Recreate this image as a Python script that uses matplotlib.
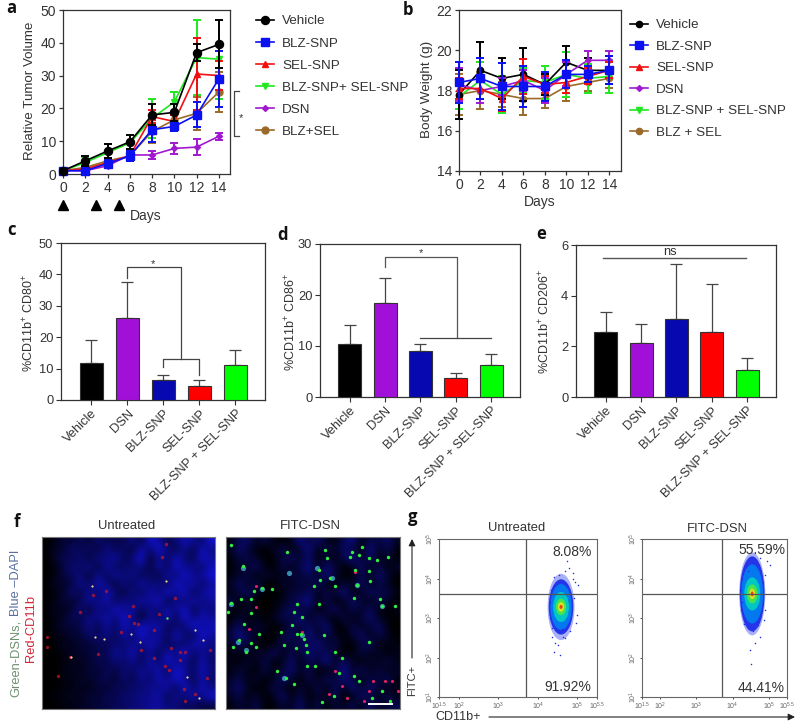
import numpy as np
import matplotlib
matplotlib.use("Agg")
import matplotlib.pyplot as plt
from matplotlib.patches import Ellipse

plt.rcParams["font.family"] = ["Liberation Sans", "DejaVu Sans"]
plt.rcParams["mathtext.default"] = "regular"
plt.rcParams["axes.edgecolor"] = "#333333"
plt.rcParams["text.color"] = "#333333"
plt.rcParams["xtick.color"] = "#333333"
plt.rcParams["ytick.color"] = "#333333"

W, H = 800, 725
DARK = "#333333"

# panel a: relative tumor volume
days = [0, 2, 4, 6, 8, 10, 12, 14]
tv_vehicle = [1, 4, 7, 9.8, 18, 18.8, 37, 39.5]
tv_vehicle_sd = [0.3, 1.5, 2, 2.2, 3.2, 2.5, 2.7, 7.3]
tv_blz = [1, 1, 3.2, 5.5, 13.5, 14.5, 18, 29]
tv_blz_sd = [0.2, 0.5, 1, 1.5, 3.8, 1.5, 3.8, 8.5]
tv_sel = [1, 1.5, 3.5, 5.5, 17.5, 16, 30.5, 30]
tv_sel_sd = [0.2, 0.4, 1, 1.5, 2, 2, 11, 4.5]
tv_combo = [1, 3.5, 6.5, 9.5, 17, 22, 35.5, 35]
tv_combo_sd = [0.2, 1.8, 2.5, 2.5, 6, 3, 11.5, 12]
tv_dsn = [1, 1, 2.5, 5.8, 5.8, 7.8, 8.2, 11.5]
tv_dsn_sd = [0.2, 0.3, 0.8, 1.2, 1.1, 1.6, 2.4, 1.1]
tv_free = [1, 2, 4, 5.5, 13, 16.5, 18.5, 25]
tv_free_sd = [0.2, 0.6, 1, 1.5, 3.5, 2, 5, 6]
dose_days = [0, 3, 5]

# panel b: body weight
bw_vehicle = [17.8, 19, 18.6, 18.8, 18.3, 19.4, 19, 19]
bw_vehicle_sd = [1.2, 1.4, 1, 1.3, 0.5, 0.8, 0.6, 0.7]
bw_blz = [18.4, 18.6, 18.2, 18.2, 18.2, 18.8, 18.8, 19]
bw_blz_sd = [1, 1, 1.15, 1, 0.7, 0.7, 0.4, 0.7]
bw_sel = [18.1, 18.1, 17.6, 18.7, 18.3, 18.4, 18.7, 19]
bw_sel_sd = [0.5, 0.5, 0.6, 0.85, 0.4, 0.5, 0.4, 0.4]
bw_dsn = [18.3, 18, 18.2, 18.5, 18, 18.8, 19.5, 19.5]
bw_dsn_sd = [0.8, 0.6, 0.4, 0.5, 0.6, 0.6, 0.45, 0.45]
bw_combo = [17.7, 18.5, 17.8, 18.5, 18.4, 18.8, 18.6, 18.7]
bw_combo_sd = [0.6, 0.9, 0.9, 0.6, 0.8, 1.1, 0.7, 0.8]
bw_free = [17.8, 18, 17.8, 17.6, 17.6, 18.2, 18.4, 18.6]
bw_free_sd = [1, 0.9, 0.6, 0.8, 0.45, 0.7, 0.4, 0.5]

# panels c, d, e: bars
bar_labels = ["Vehicle", "DSN", "BLZ-SNP", "SEL-SNP", "BLZ-SNP + SEL-SNP"]
bar_colors = ["#000000", "#a010d8", "#0808b0", "#ff0000", "#00ff00"]
cd80 = [11.7, 26, 6.5, 4.6, 11.1]
cd80_top = [19, 37.5, 8, 6.5, 16]
cd86 = [10.4, 18.4, 9.1, 3.7, 6.3]
cd86_top = [14.2, 23.4, 10.3, 4.8, 8.4]
cd206 = [2.55, 2.15, 3.07, 2.55, 1.08]
cd206_top = [3.35, 2.88, 5.25, 4.45, 1.55]

# panel f: DAPI brightness by eye, one digit per block
dapi_untreated = [
    "01324253436286357648", "02253526352748536375", "02435264735826475386",
    "01354627354627385647", "01345263746352748568", "02236475263746385746",
    "01253647526374858367", "01324657364758264756", "02135264857364758365",
    "01243657485264738576", "01324536475867354867", "01132546374856475386",
    "00213243546576354765", "00122334657463758465", "00112243546374856374",
    "00121324354657386475", "00112234253647586374", "00112132435465738475",
    "01121324354657364758", "00112233445566554433",
]
dapi_fitc = [
    "14524102635214614352", "25310240361425306241", "13420135250314625130",
    "03251041462530251403", "12403214251630142530", "25140031425103251420",
    "13520104251436025341", "41200023561402531420", "20310135240351425102",
    "03120243615204135210", "25132014352601423510", "36421035162420351420",
    "24310142536241035021", "12032514263520141302", "20314025143625203141",
    "13204135241036251403", "24130253041526314250", "35201420314051625312",
    "24130251403240153241", "13240132514032415234",
]
un_red_x = [275, 265, 280, 290, 240, 420, 435, 385, 420, 390, 435, 430, 465, 300, 170, 340, 355, 405, 365, 375,
            195, 155, 115, 85, 15, 50, 15, 340, 510, 500, 372]
un_red_y = [210, 240, 262, 265, 290, 350, 350, 405, 375, 340, 500, 465, 480, 345, 358, 285, 235, 185, 60, 22,
            165, 178, 230, 365, 335, 425, 305, 370, 345, 430, 395]
un_yellow_x = [152, 162, 187, 270, 298, 465, 490, 440, 88, 476, 375]
un_yellow_y = [150, 305, 312, 296, 320, 285, 315, 428, 365, 490, 135]
un_green_x = [380]
un_green_y = [247]
fi_green_x = [380, 400, 430, 455, 410, 375, 490, 430, 435, 390, 395, 385, 470, 465, 300, 305, 185, 50, 15, 280,
              315, 330, 285, 265, 110, 85, 75, 15, 5, 75, 45, 140, 215, 205, 228, 200, 165, 175, 215, 235,
              240, 225, 245, 210, 20, 60, 75, 40, 90, 55, 100, 330, 350, 340, 245, 270, 155, 180, 205, 385,
              400, 290, 325, 470, 440, 495, 430, 510, 280, 295]
fi_green_y = [45, 55, 65, 70, 30, 60, 60, 105, 135, 100, 145, 185, 210, 190, 40, 65, 45, 90, 25, 100,
              125, 150, 130, 150, 155, 165, 190, 200, 228, 232, 190, 160, 205, 230, 245, 270, 290, 330, 295, 310,
              330, 295, 350, 340, 335, 350, 325, 315, 335, 265, 295, 350, 370, 415, 395, 395, 410, 430, 450, 425,
              440, 505, 485, 470, 490, 500, 320, 210, 205, 300]
fi_red_x = [430, 480, 415, 500, 350, 310, 365, 90, 90, 280, 390, 230, 70, 445, 330, 520]
fi_red_y = [470, 440, 500, 440, 455, 480, 490, 150, 215, 100, 108, 290, 280, 440, 410, 470]
fi_cyan_x = [320, 60, 230, 175, 395, 15, 110, 35, 275, 190, 470, 50]
fi_cyan_y = [125, 345, 300, 430, 145, 205, 160, 320, 95, 110, 210, 95]
scale_bar_x = [430, 500]
scale_bar_y = [510, 510]

# panel g: flow plots, all positions in log10 units
gate_left = (3.70, 3.61)
gate_right = (3.71, 3.61)
cloud_left = (4.59, 3.28)
cloud_right = (4.54, 3.61)
level_colors = ["#4050f0", "#1828e8", "#0080f0", "#00d0c0", "#50e840", "#f0e020", "#f03010"]
left_wx = [0.34, 0.31, 0.27, 0.20, 0.13, 0.08, 0.04]
left_wy = [0.84, 0.70, 0.58, 0.38, 0.21, 0.12, 0.05]
right_wx = [0.36, 0.34, 0.30, 0.22, 0.15, 0.08, 0.04]
right_wy = [1.05, 0.95, 0.75, 0.42, 0.24, 0.13, 0.06]
left_dots_x = [4.44, 4.40, 4.57, 4.78, 4.74, 4.90, 4.52, 4.69, 4.35, 4.99, 5.03, 4.97, 4.48, 4.65, 4.82,
               4.30, 4.32, 4.33, 4.92, 4.95, 4.88, 4.40, 4.55, 4.68, 4.36, 4.62, 4.80]
left_dots_y = [2.36, 2.15, 2.07, 4.27, 4.44, 4.14, 2.32, 2.49, 2.53, 3.08, 3.84, 2.87, 2.70, 2.53, 2.66,
               3.40, 3.00, 3.70, 3.50, 3.90, 3.98, 4.05, 4.10, 4.18, 2.75, 2.72, 2.85]
right_dots_x = [4.48, 4.50, 4.62, 4.76, 4.57, 4.94, 4.76, 5.03, 4.43, 4.57, 4.22, 4.24, 4.26, 4.88, 4.86,
                4.30, 4.42, 4.70, 4.85, 4.90, 4.26]
right_dots_y = [2.19, 1.83, 2.36, 2.53, 2.66, 4.44, 4.52, 4.35, 4.18, 4.39, 3.70, 3.20, 4.00, 3.20, 2.95,
                2.85, 2.75, 2.82, 3.90, 4.10, 3.40]
flow_xticks = [1.5, 2, 3, 4, 5, 5.5]
flow_yticks = [1, 2, 3, 4, 5]


def px_axes(fig, x0, y0, x1, y1):
    # rectangle given in image pixels, y going down
    return fig.add_axes([x0 / W, 1 - y1 / H, (x1 - x0) / W, (y1 - y0) / H])


def line_panel(ax, series, xlim, ylim, yticks):
    handles = {}
    for name, y, sd, color, marker, ms, z in series:
        ax.errorbar(days, y, yerr=sd, color=color, lw=0, elinewidth=1.4, capsize=2.6, capthick=1.4,
                    zorder=z, clip_on=False)
        h, = ax.plot(days, y, color=color, marker=marker, ms=ms, lw=1.2, zorder=z, clip_on=False)
        handles[name] = h
    ax.set_xlim(*xlim)
    ax.set_ylim(*ylim)
    ax.set_xticks(days)
    ax.set_yticks(yticks)
    ax.tick_params(labelsize=10, length=3, width=0.9, pad=2)
    for s in ax.spines.values():
        s.set_linewidth(0.9)
    return handles


def bar_panel(ax, vals, tops, ymax, yticks):
    x = np.arange(len(vals))
    err = [np.zeros(len(vals)), np.array(tops) - np.array(vals)]
    ax.bar(x, vals, width=0.65, color=bar_colors, edgecolor=DARK, linewidth=0.8, zorder=3)
    ax.errorbar(x, vals, yerr=err, fmt="none", ecolor="#444444", elinewidth=0.9, capsize=4.3, capthick=0.9, zorder=2)
    ax.set_xlim(-0.84, 4.82)
    ax.set_ylim(0, ymax)
    ax.set_yticks(yticks)
    ax.set_xticks(x)
    ax.set_xticklabels(bar_labels, rotation=45, ha="right", rotation_mode="anchor")
    ax.tick_params(labelsize=9.3, length=3.5, width=0.8, pad=2)
    for s in ax.spines.values():
        s.set_linewidth(0.9)


def micro_panel(ax, rows, gamma):
    blue = np.array([[int(c) / 9 for c in r] for r in rows]) ** gamma
    img = np.zeros(blue.shape + (3,))
    img[..., 0] = blue * 0.08
    img[..., 1] = blue * 0.08
    img[..., 2] = blue
    ax.imshow(img, extent=(0, 525, 525, 0), interpolation="bicubic", aspect="auto")
    ax.set_xticks([])
    ax.set_yticks([])
    for s in ax.spines.values():
        s.set_linewidth(0.8)
        s.set_color("#777777")


def flow_panel(ax, center, wx, wy, dots_x, dots_y, gate):
    ax.set_xlim(1.5, 5.5)
    ax.set_ylim(1, 5)
    for c, a, b in zip(level_colors, wx, wy):
        ax.add_patch(Ellipse(center, 2 * a, 2 * b, facecolor=c, edgecolor="none",
                             alpha=0.45 if c == level_colors[0] else 0.9))
    ax.scatter(dots_x, dots_y, s=1.2, color="#2030e0", linewidths=0)
    ax.axvline(gate[0], color="#555555", lw=0.9)
    ax.axhline(gate[1], color="#555555", lw=0.9)
    ax.set_xticks(flow_xticks)
    ax.set_yticks(flow_yticks)
    ax.set_xticklabels([f"$10^{{{t}}}$" for t in flow_xticks])
    ax.set_yticklabels([f"$10^{{{t}}}$" for t in flow_yticks], rotation=90, va="center")
    ax.tick_params(labelsize=5, length=1.5, width=0.6, pad=1, labelcolor="#666666")
    for s in ax.spines.values():
        s.set_linewidth(0.8)
        s.set_color("#666666")


fig = plt.figure(figsize=(W / 100, H / 100), dpi=100)

# a
ax_a = px_axes(fig, 63, 10, 230, 174)
a_series = [
    ("BLZ-SNP+ SEL-SNP", tv_combo, tv_combo_sd, "#1fe81f", "v", 4.5, 3),
    ("BLZ+SEL", tv_free, tv_free_sd, "#9a6a28", "o", 5, 4),
    ("SEL-SNP", tv_sel, tv_sel_sd, "#f01010", "^", 4.5, 5),
    ("DSN", tv_dsn, tv_dsn_sd, "#a018d0", "D", 3, 6),
    ("BLZ-SNP", tv_blz, tv_blz_sd, "#0a10f0", "s", 5.5, 7),
    ("Vehicle", tv_vehicle, tv_vehicle_sd, "#000000", "o", 5.8, 8),
]
hs = line_panel(ax_a, a_series, (0, 15), (0, 50), range(0, 51, 10))
a_order = ["Vehicle", "BLZ-SNP", "SEL-SNP", "BLZ-SNP+ SEL-SNP", "DSN", "BLZ+SEL"]
ax_a.plot(dose_days, [-9.5] * 3, ls="none", marker="^", ms=6.5, color="black", clip_on=False)
ax_a.plot([15.85, 15.35, 15.35, 15.85], [25.3, 25.3, 11.7, 11.7], color="#444444", lw=0.9, clip_on=False)
ax_a.text(15.95, 17.2, "*", fontsize=8, ha="center", va="center")

# b
ax_b = px_axes(fig, 459, 10, 621, 171)
b_series = [
    ("BLZ + SEL", bw_free, bw_free_sd, "#9a6a28", "o", 4.5, 3),
    ("BLZ-SNP + SEL-SNP", bw_combo, bw_combo_sd, "#1fe81f", "v", 4.5, 4),
    ("Vehicle", bw_vehicle, bw_vehicle_sd, "#000000", "o", 4.5, 5),
    ("DSN", bw_dsn, bw_dsn_sd, "#a018d0", "D", 3, 6),
    ("SEL-SNP", bw_sel, bw_sel_sd, "#f01010", "^", 4.5, 7),
    ("BLZ-SNP", bw_blz, bw_blz_sd, "#0a10f0", "s", 5.5, 8),
]
hs_b = line_panel(ax_b, b_series, (0, 15.1), (14, 22), range(14, 23, 2))
b_order = ["Vehicle", "BLZ-SNP", "SEL-SNP", "DSN", "BLZ-SNP + SEL-SNP", "BLZ + SEL"]

# c
ax_c = px_axes(fig, 61, 243, 265, 400)
bar_panel(ax_c, cd80, cd80_top, 50, range(0, 51, 10))
ax_c.plot([1, 1, 2.5, 2.5], [39, 42.3, 42.3, 13], color="#444444", lw=0.9, zorder=4)
ax_c.plot([2, 2, 3, 3], [10.6, 13, 13, 8], color="#444444", lw=0.9, zorder=4)
ax_c.text(1.72, 43.2, "*", fontsize=8, ha="center", va="center")

# d
ax_d = px_axes(fig, 320, 244, 520, 397)
bar_panel(ax_d, cd86, cd86_top, 30, range(0, 31, 10))
ax_d.plot([1, 1, 3.05, 3.05], [25.4, 27.45, 27.45, 11.6], color="#555555", lw=0.9, zorder=4)
ax_d.plot([2, 4], [11.6, 11.6], color="#444444", lw=0.9, zorder=4)
ax_d.text(2.03, 28.3, "*", fontsize=8, ha="center", va="center")

# e
ax_e = px_axes(fig, 576, 245, 776, 397)
bar_panel(ax_e, cd206, cd206_top, 6, range(0, 7, 2))
ax_e.plot([-0.08, 3.96], [5.5, 5.5], color="#555555", lw=1.0, zorder=4)
ax_e.text(1.82, 5.73, "ns", fontsize=9.3, ha="center", va="center")

# f
ax_f1 = px_axes(fig, 42, 537, 215, 709)
micro_panel(ax_f1, dapi_untreated, 1.25)
ax_f1.scatter(un_red_x, un_red_y, s=6, color="#c01828", linewidths=0, alpha=0.75)
ax_f1.scatter(un_yellow_x, un_yellow_y, s=2.5, color="#f8d890", linewidths=0)
ax_f1.scatter(un_green_x, un_green_y, s=3, color="#50f050", linewidths=0)
ax_f1.set_xlim(0, 525)
ax_f1.set_ylim(525, 0)

ax_f2 = px_axes(fig, 226, 537, 400, 709)
micro_panel(ax_f2, dapi_fitc, 1.4)
ax_f2.scatter(fi_cyan_x, fi_cyan_y, s=14, color="#50c8e0", linewidths=0, alpha=0.7)
ax_f2.scatter(fi_red_x, fi_red_y, s=5, color="#e02060", linewidths=0)
ax_f2.scatter(fi_green_x, fi_green_y, s=6, color="#30f040", linewidths=0)
ax_f2.plot(scale_bar_x, scale_bar_y, color="white", lw=1.4)
ax_f2.set_xlim(0, 525)
ax_f2.set_ylim(525, 0)

# g
ax_g1 = px_axes(fig, 439, 539, 597, 697)
flow_panel(ax_g1, cloud_left, left_wx, left_wy, left_dots_x, left_dots_y, gate_left)
ax_g2 = px_axes(fig, 642, 539, 787, 697)
flow_panel(ax_g2, cloud_right, right_wx, right_wy, right_dots_x, right_dots_y, gate_right)

# overlay in image pixels for the free text, legends and arrows
ov = fig.add_axes([0, 0, 1, 1], zorder=20)
ov.set_xlim(0, W)
ov.set_ylim(H, 0)
ov.axis("off")
ov.patch.set_alpha(0)

leg_kw = dict(loc="upper left", bbox_transform=ov.transData, frameon=False, fontsize=9.7, handletextpad=0.65,
              borderpad=0, borderaxespad=0, labelcolor=DARK)
leg_a = ov.legend([hs[k] for k in a_order], a_order, bbox_to_anchor=(256, 15), labelspacing=0.72,
                  handlelength=1.3, **leg_kw)
ov.add_artist(leg_a)
ov.legend([hs_b[k] for k in b_order], b_order, bbox_to_anchor=(630, 19), labelspacing=0.67,
          handlelength=1.3, **leg_kw)

axis_texts = [
    (30, 91, "Relative Tumor Volume", 90, 9.6), (146, 216, "Days", 0, 10), (427, 89, "Body Weight (g)", 90, 9.7),
    (540, 202, "Days", 0, 10),
    (29, 323, "%CD11b$^{+}$ CD80$^{+}$", 90, 9), (291, 322, "%CD11b$^{+}$ CD86$^{+}$", 90, 9),
    (545, 322, "%CD11b$^{+}$ CD206$^{+}$", 90, 9),
    (127, 526, "Untreated", 0, 9.4), (310, 526, "FITC-DSN", 0, 9.4), (517, 528, "Untreated", 0, 9.4),
    (717, 529, "FITC-DSN", 0, 9.4),
]
for x, y, t, rot, size in axis_texts:
    ov.text(x, y, t, fontsize=size, rotation=rot, ha="center", va="center")

for x, y, t in [(11, 8, "a"), (408, 10, "b"), (11, 230, "c"), (283, 235, "d"), (541, 234, "e"), (17, 522, "f"), (413, 517, "g")]:
    ov.text(x, y, t, fontsize=12, fontweight="bold", color="#111111", family=["Open Sans", "DejaVu Sans"], ha="center", va="center")

ov.text(16, 658, "Green-DSNs,", fontsize=9.3, color="#6f9070", rotation=90, ha="center", va="center")
ov.text(16, 583, "Blue \u2013DAPI", fontsize=9.3, color="#5a6f9f", rotation=90, ha="center", va="center")
ov.text(31, 628, "Red-CD11b", fontsize=9.3, color="#d02838", rotation=90, ha="center", va="center")

for x, y, t in [(572, 552, "8.08%"), (568, 687, "91.92%"), (762, 550, "55.59%"), (761, 688, "44.41%")]:
    ov.text(x, y, t, fontsize=10, ha="center", va="center")

ov.text(412, 680, "FITC+", fontsize=8, rotation=90, ha="center", va="center")
ov.text(458, 717, "CD11b+", fontsize=9, ha="center", va="center")
ov.annotate("", xy=(412, 539), xytext=(412, 658), arrowprops=dict(arrowstyle="-|>", color="#222222", lw=0.8, shrinkA=0, shrinkB=0))
ov.annotate("", xy=(795, 717), xytext=(489, 717), arrowprops=dict(arrowstyle="-|>", color="#222222", lw=0.8, shrinkA=0, shrinkB=0))

fig.savefig("out.png", dpi=100)
